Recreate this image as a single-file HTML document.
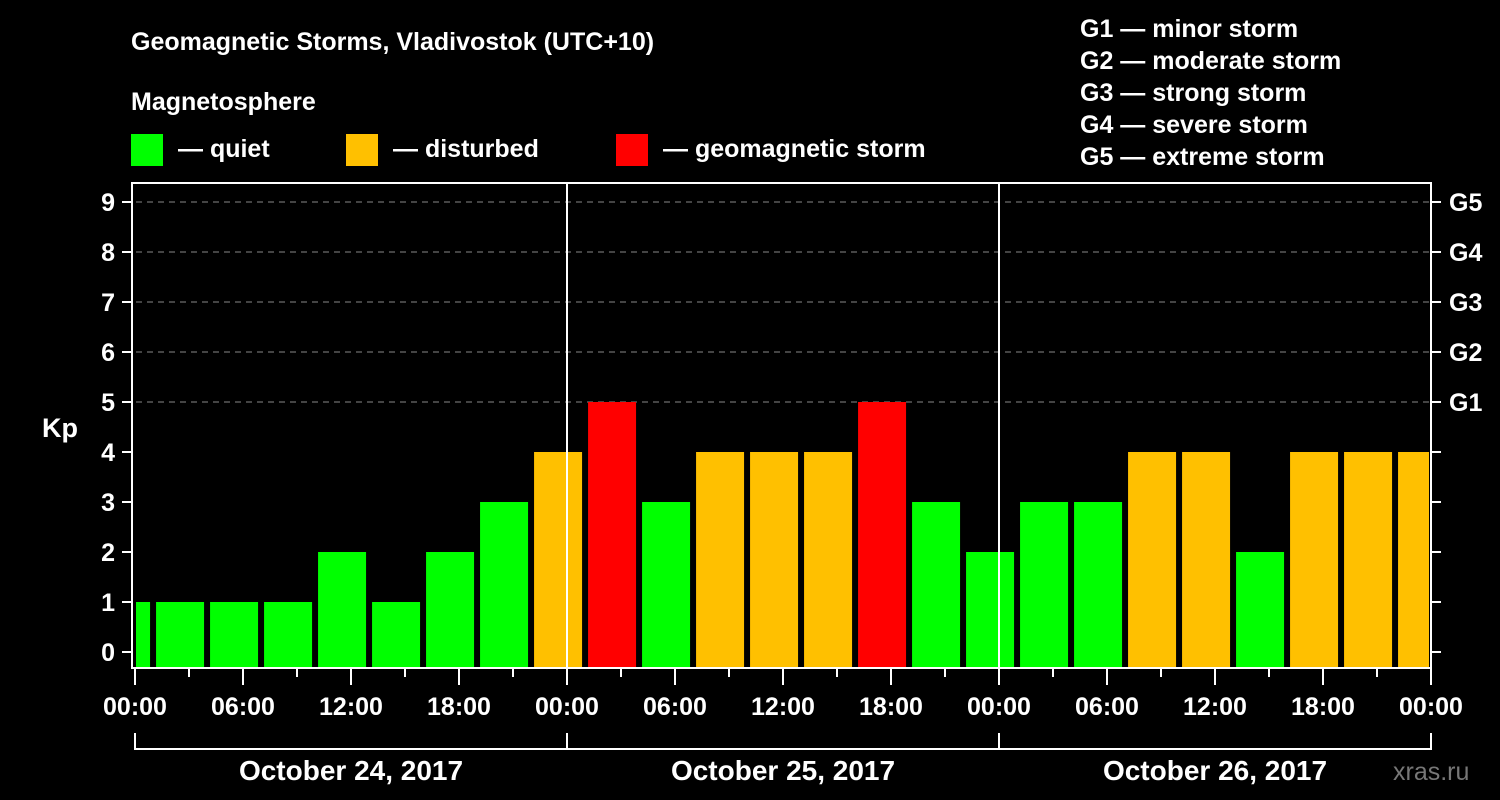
<!DOCTYPE html>
<html><head><meta charset="utf-8"><style>
html,body{margin:0;padding:0;background:#000;}
svg{display:block;font-family:"Liberation Sans",Arial,sans-serif;font-weight:bold;}
</style></head><body>
<svg id="chart" width="1500" height="800" viewBox="0 0 1500 800">
<rect width="1500" height="800" fill="#000"/>
<text x="131" y="50" fill="#fff" font-size="25">Geomagnetic Storms, Vladivostok (UTC+10)</text>
<text x="131" y="110" fill="#fff" font-size="25">Magnetosphere</text>
<g>
<rect x="131" y="134" width="32" height="32" fill="#00ff00"/>
<text x="178" y="157" fill="#fff" font-size="25">— quiet</text>
<rect x="346" y="134" width="32" height="32" fill="#ffc000"/>
<text x="393" y="157" fill="#fff" font-size="25">— disturbed</text>
<rect x="616" y="134" width="32" height="32" fill="#ff0000"/>
<text x="663" y="157" fill="#fff" font-size="25">— geomagnetic storm</text>
</g>
<g fill="#fff" font-size="25">
<text x="1080" y="37">G1 — minor storm</text>
<text x="1080" y="69">G2 — moderate storm</text>
<text x="1080" y="101">G3 — strong storm</text>
<text x="1080" y="133">G4 — severe storm</text>
<text x="1080" y="165">G5 — extreme storm</text>
</g>
<text x="42" y="437" fill="#fff" font-size="27">Kp</text>
<text x="1393" y="780" fill="#777" font-size="25" font-weight="normal">xras.ru</text>
<g id="grid"></g>
<g id="bars"></g>
<g id="axes"></g>
</svg>
<script>
const values=[1,1,1,1,2,1,2,3,4,5,3,4,4,4,5,3,2,3,3,4,4,2,4,4,4];
const yTicks=[0,1,2,3,4,5,6,7,8,9];
const gLabels=["G1","G2","G3","G4","G5"];
const gLevels=[5,6,7,8,9];
const xTickLabels=["00:00","06:00","12:00","18:00","00:00","06:00","12:00","18:00","00:00","06:00","12:00","18:00","00:00"];
const dayLabels=["October 24, 2017","October 25, 2017","October 26, 2017"];

const NS="http://www.w3.org/2000/svg";
const X0=135,PXH=18,Y0=652,PXU=50,LEFT=136,RIGHT=1429,TOP=183,BOT=668;
const xh=h=>X0+h*PXH, yv=v=>Y0-v*PXU;
function mk(tag,at,parent){const e=document.createElementNS(NS,tag);for(const k in at)e.setAttribute(k,at[k]);parent.appendChild(e);return e;}
const grid=document.getElementById('grid'),bars=document.getElementById('bars'),axes=document.getElementById('axes');
gLevels.forEach(v=>{const l=mk('line',{x1:LEFT,x2:RIGHT,y1:yv(v),y2:yv(v),stroke:'#888','stroke-width':1,'stroke-dasharray':'6,5'},grid);

});
function color(v){return v>=5?'#ff0000':(v>=4?'#ffc000':'#00ff00');}
values.forEach((v,k)=>{let x1=xh(3*k-1.83),x2=x1+48;x1=Math.max(x1,LEFT);x2=Math.min(x2,RIGHT);
const r=mk('rect',{x:x1,y:yv(v),width:x2-x1,height:BOT-1-yv(v),fill:color(v)},bars);

});
// frame
const fr=mk('rect',{x:X0-3,y:TOP,width:xh(72)-X0+3,height:BOT-TOP,fill:'none',stroke:'#fff','stroke-width':2},axes);


[24,48].forEach(h=>{const l=mk('line',{x1:xh(h),x2:xh(h),y1:TOP,y2:BOT,stroke:'#fff','stroke-width':2},axes);

});
yTicks.forEach(v=>{mk('line',{x1:X0-13,x2:X0-3,y1:yv(v),y2:yv(v),stroke:'#fff','stroke-width':2},axes);
mk('line',{x1:xh(72),x2:xh(72)+10,y1:yv(v),y2:yv(v),stroke:'#fff','stroke-width':2},axes);
const t=mk('text',{x:X0-20,y:yv(v)+9,fill:'#fff','font-size':25,'text-anchor':'end'},axes);t.textContent=v;

});
gLabels.forEach((g,i)=>{const t=mk('text',{x:1449,y:yv(gLevels[i])+9,fill:'#fff','font-size':25},axes);t.textContent=g;

});
for(let h=0;h<=72;h+=3){const major=h%6===0;mk('line',{x1:xh(h),x2:xh(h),y1:BOT,y2:BOT+(major?17:9),stroke:'#fff','stroke-width':2},axes);}
xTickLabels.forEach((s,i)=>{const t=mk('text',{x:xh(i*6),y:715,fill:'#fff','font-size':25,'text-anchor':'middle'},axes);t.textContent=s;

});
mk('path',{d:`M${xh(0)} 733V749H${xh(72)}V733M${xh(24)} 733V749M${xh(48)} 733V749`,fill:'none',stroke:'#fff','stroke-width':2},axes);
dayLabels.forEach((s,i)=>{const t=mk('text',{x:xh(24*i+12),y:780,fill:'#fff','font-size':28,'text-anchor':'middle'},axes);t.textContent=s;

});
</script>
</body></html>
